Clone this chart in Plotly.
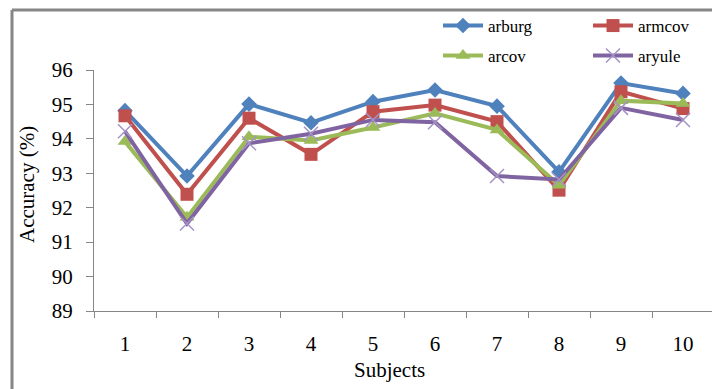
import plotly.graph_objects as go

subjects = ["1", "2", "3", "4", "5", "6", "7", "8", "9", "10"]
arburg = [94.82, 92.92, 95.01, 94.47, 95.08, 95.42, 94.95, 93.04, 95.62, 95.32]
armcov = [94.67, 92.39, 94.60, 93.55, 94.79, 94.98, 94.50, 92.51, 95.37, 94.88]
arcov = [93.92, 91.72, 94.06, 93.95, 94.33, 94.74, 94.26, 92.65, 95.11, 95.03]
aryule = [94.22, 91.54, 93.87, 94.15, 94.55, 94.48, 92.92, 92.82, 94.90, 94.55]
yticks = [89, 90, 91, 92, 93, 94, 95, 96]

FONT = "Liberation Serif, Times New Roman, serif"
AXIS = "#868686"

fig = go.Figure()
fig.add_trace(go.Scatter(x=subjects, y=arburg, name="arburg", mode="lines+markers",
                         line=dict(color="#4F81BD", width=4),
                         marker=dict(symbol="diamond", size=12, color="#4F81BD"),
                         legend="legend"))
fig.add_trace(go.Scatter(x=subjects, y=armcov, name="armcov", mode="lines+markers",
                         line=dict(color="#C0504D", width=4),
                         marker=dict(symbol="square", size=13, color="#C0504D"),
                         legend="legend"))
fig.add_trace(go.Scatter(x=subjects, y=arcov, name="arcov", mode="lines+markers",
                         line=dict(color="#9BBB59", width=4),
                         marker=dict(symbol="triangle-up", size=13, color="#9BBB59"),
                         legend="legend2"))
fig.add_trace(go.Scatter(x=subjects, y=aryule, name="aryule", mode="lines+markers",
                         line=dict(color="#8064A2", width=4),
                         marker=dict(symbol="x-thin", size=14, color="#A593C6",
                                     line=dict(color="#A593C6", width=1.5)),
                         legend="legend2"))

W, H = 712, 389
L, T, B = 94, 70, 78
pw = W - L
ph = H - T - B

def px(x):
    return (x - L) / pw

def py(y):
    return (H - B - y) / ph

leg = dict(orientation="h", xanchor="left", yanchor="middle", entrywidth=95,
           entrywidthmode="pixels", font=dict(family=FONT, size=17, color="black"),
           bgcolor="rgba(0,0,0,0)", borderwidth=0, itemwidth=40, tracegroupgap=0)

fig.update_layout(
    width=W, height=H,
    margin=dict(l=L, r=0, t=T, b=B, autoexpand=False),
    paper_bgcolor="white", plot_bgcolor="white",
    font=dict(family=FONT, size=21, color="black"),
    hovermode=False,
    legend=dict(leg, x=px(438), y=py(26)),
    legend2=dict(leg, x=px(438), y=py(56)),
    xaxis=dict(type="category", range=[-0.5, 9.5 - 2 / 62], tickson="boundaries",
               showline=True, linecolor=AXIS, linewidth=1, ticks="outside",
               ticklen=6, tickcolor=AXIS, showgrid=False, zeroline=False,
               ticklabelstandoff=14, tickfont=dict(family=FONT, size=21)),
    yaxis=dict(range=[89, 96], tickvals=yticks, showline=True, linecolor=AXIS,
               linewidth=1, ticks="outside", ticklen=7, tickcolor=AXIS,
               showgrid=False, zeroline=False, ticklabelstandoff=9,
               tickfont=dict(family=FONT, size=21)),
    shapes=[
        dict(type="line", xref="paper", yref="paper", x0=px(12), x1=px(720),
             y0=py(10), y1=py(10), line=dict(color=AXIS, width=3)),
        dict(type="line", xref="paper", yref="paper", x0=px(12), x1=px(12),
             y0=py(10), y1=py(400), line=dict(color=AXIS, width=3)),
    ],
    annotations=[
        dict(text="Subjects", xref="paper", yref="paper", x=px(389), y=py(370),
             showarrow=False, xanchor="center", yanchor="middle",
             font=dict(family=FONT, size=21)),
        dict(text="Accuracy (%)", xref="paper", yref="paper", x=px(27), y=py(185),
             showarrow=False, textangle=-90, xanchor="center", yanchor="middle",
             font=dict(family=FONT, size=21)),
    ],
)

fig.write_html("out.html", config={"displayModeBar": False, "staticPlot": True},
               post_script="document.body.style.margin='0px';document.body.style.overflow='hidden';")
